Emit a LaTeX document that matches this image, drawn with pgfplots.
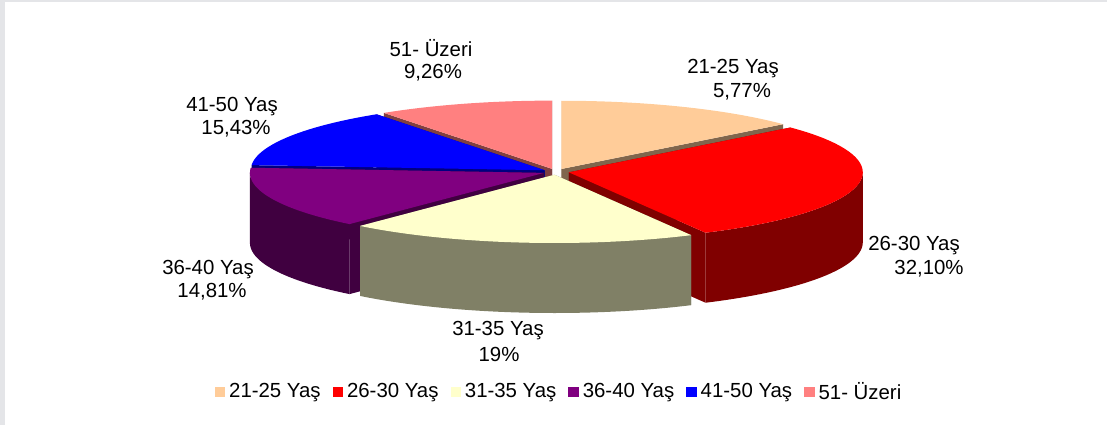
\documentclass[border=0pt]{standalone}
\usepackage{fontspec}
\setmainfont{Liberation Sans}
\usepackage{pgfplots}
\usepackage{pgfplotstable}
\pgfplotsset{compat=1.18}

\definecolor{cA}{HTML}{FFCC99}\definecolor{sA}{RGB}{128,102,77}
\definecolor{cB}{HTML}{FF0000}\definecolor{sB}{HTML}{800000}
\definecolor{cC}{HTML}{FFFFCC}\definecolor{sC}{RGB}{128,128,102}
\definecolor{cD}{HTML}{800080}\definecolor{sD}{HTML}{400040}
\definecolor{cE}{HTML}{0000FF}\definecolor{sE}{HTML}{000080}
\definecolor{cF}{HTML}{FF8080}\definecolor{sF}{HTML}{804040}
\definecolor{frame}{RGB}{228,229,232}

\tikzset{lab/.style={font=\fontsize{10.2pt}{12pt}\selectfont, inner sep=0pt, anchor=center}}

% slice sizes (share of the pie, in %), as drawn
\pgfplotstableread{
group value
21-25 13.6
26-30 28.7
31-35 19.2
36-40 14.7
41-50 14.1
51+   9.7
}\pietable

\pgfplotstablegetelem{0}{value}\of\pietable \pgfmathsetmacro\aA{90-3.6*\pgfplotsretval}
\pgfplotstablegetelem{1}{value}\of\pietable \pgfmathsetmacro\aB{\aA-3.6*\pgfplotsretval}
\pgfplotstablegetelem{2}{value}\of\pietable \pgfmathsetmacro\aC{\aB-3.6*\pgfplotsretval}
\pgfplotstablegetelem{3}{value}\of\pietable \pgfmathsetmacro\aD{\aC-3.6*\pgfplotsretval}
\pgfplotstablegetelem{4}{value}\of\pietable \pgfmathsetmacro\aE{\aD-3.6*\pgfplotsretval}
\pgfplotstablegetelem{5}{value}\of\pietable \pgfmathsetmacro\aF{\aE-3.6*\pgfplotsretval}

% geometry (pixel units)
\def\cx{556}\def\cy{253.25}\def\rx{294}\def\ry{68.25}\def\dep{70}\def\ex{13}

\newcommand\drawslice[4]{% hi angle, lo angle, top colour, side colour
  \pgfmathsetmacro\pmid{(#1+#2)/2}%
  \pgfmathsetmacro\ax{\cx+\ex*cos(\pmid)}%
  \pgfmathsetmacro\ay{\cy+\ex*\ry/\rx*sin(\pmid)}%
  \pgfmathsetmacro\ayb{\ay-\dep}%
  \pgfmathsetmacro\hx{\ax+\rx*cos(#1)}%
  \pgfmathsetmacro\hy{\ay+\ry*sin(#1)}%
  \pgfmathsetmacro\hyb{\hy-\dep}%
  \pgfmathsetmacro\lx{\ax+\rx*cos(#2)}%
  \pgfmathsetmacro\ly{\ay+\ry*sin(#2)}%
  \pgfmathsetmacro\lyb{\ly-\dep}%
  \edef\tmp{\noexpand\addplot[forget plot,fill=#4,draw=none] coordinates {(\ax,\ay) (\hx,\hy) (\hx,\hyb) (\ax,\ayb)} -- cycle;}\tmp
  \edef\tmp{\noexpand\addplot[forget plot,fill=#4,draw=none] coordinates {(\ax,\ay) (\lx,\ly) (\lx,\lyb) (\ax,\ayb)} -- cycle;}\tmp
  \pgfmathsetmacro\wlo{max(#2,-180)}%
  \pgfmathsetmacro\whi{min(#1,0)}%
  \pgfmathsetmacro\wspan{\whi-\wlo}%
  \ifdim\wspan pt>0.01pt
    \edef\tmp{\noexpand\addplot[forget plot,fill=#4,draw=none,domain=0:2.1,samples=211,variable=\noexpand\pp]
      ({\ax+\rx*cos(\wlo+\wspan*(min(\noexpand\pp,1)-max(\noexpand\pp-1.1,0)))},
       {\ay+\ry*sin(\wlo+\wspan*(min(\noexpand\pp,1)-max(\noexpand\pp-1.1,0)))-\dep*min(max((\noexpand\pp-1)*10,0),1)}) -- cycle;}\tmp
  \fi
  \edef\tmp{\noexpand\addplot[forget plot,fill=#3,draw=none,domain=#2:#1,samples=90,variable=\noexpand\qq]
      ({\ax+\rx*cos(\noexpand\qq)},{\ay+\ry*sin(\noexpand\qq)}) -- (axis cs:\ax,\ay) -- cycle;}\tmp
}

\begin{document}
\begin{tikzpicture}
\begin{axis}[
  width=553.5pt, height=212.5pt, scale only axis,
  xmin=0, xmax=1107, ymin=0, ymax=425,
  hide axis,
  legend style={at={(0.5059,0.0776)}, anchor=center, draw=none, fill=none,
    legend columns=-1, font=\fontsize{10.2pt}{12pt}\selectfont,
    /tikz/every even column/.append style={column sep=4pt}},
  legend image code/.code={\fill[#1] (0pt,-2.7pt) rectangle (5.2pt,2.7pt);},
]
\path (axis cs:0,0) rectangle (axis cs:1107,425);
\fill[frame] (axis cs:0,0) rectangle (axis cs:5,425);
\fill[frame] (axis cs:0,422.8) rectangle (axis cs:1107,425);

\drawslice{\aE}{\aF}{cF}{sF}
\drawslice{90}{\aA}{cA}{sA}
\drawslice{\aD}{\aE}{cE}{sE}
\drawslice{\aA}{\aB}{cB}{sB}
\drawslice{\aC}{\aD}{cD}{sD}
\drawslice{\aB}{\aC}{cC}{sC}

\addlegendimage{fill=cA,draw=none}\addlegendentry{21-25 Yaş}
\addlegendimage{fill=cB,draw=none}\addlegendentry{26-30 Yaş}
\addlegendimage{fill=cC,draw=none}\addlegendentry{31-35 Yaş}
\addlegendimage{fill=cD,draw=none}\addlegendentry{36-40 Yaş}
\addlegendimage{fill=cE,draw=none}\addlegendentry{41-50 Yaş}
\addlegendimage{fill=cF,draw=none}\addlegendentry{51- Üzeri}

\node[lab] at (axis cs:431,377) {51- Üzeri};
\node[lab] at (axis cs:433,352) {9,26\%};
\node[lab] at (axis cs:733,356) {21-25 Yaş};
\node[lab] at (axis cs:742,333) {5,77\%};
\node[lab] at (axis cs:232,318) {41-50 Yaş};
\node[lab] at (axis cs:236,296) {15,43\%};
\node[lab] at (axis cs:914,179) {26-30 Yaş};
\node[lab] at (axis cs:929,156) {32,10\%};
\node[lab] at (axis cs:208,155) {36-40 Yaş};
\node[lab] at (axis cs:212,133) {14,81\%};
\node[lab] at (axis cs:498,94) {31-35 Yaş};
\node[lab] at (axis cs:499,71) {19\%};
\end{axis}
\end{tikzpicture}
\end{document}
